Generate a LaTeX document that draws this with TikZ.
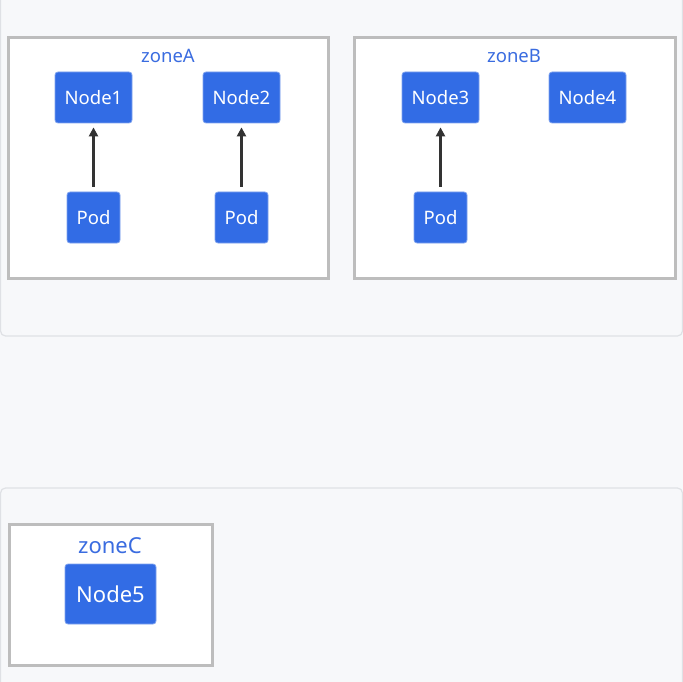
\documentclass[tikz,border=0pt]{standalone}
\usepackage{fontspec}
\setmainfont{Noto Sans}
\usetikzlibrary{arrows.meta}
\definecolor{bg}{HTML}{F7F8FA}
\definecolor{panelline}{HTML}{DFE1E5}
\definecolor{zoneline}{HTML}{BDBDBD}
\definecolor{kblue}{HTML}{326CE5}
\definecolor{kedge}{HTML}{7FA3EE}
\definecolor{zonetext}{HTML}{3A6CE0}
\definecolor{arrowc}{HTML}{333333}
\tikzset{
  zonebox/.style={draw=zoneline, line width=3pt, fill=white},
  zonelabel/.style={text=zonetext, font=\fontsize{18.5}{21}\selectfont, inner sep=0pt},
  kbox/.style={draw=kedge, line width=0.8pt, fill=kblue, rounded corners=3pt, text=white,
    font=\fontsize{18.5}{21}\selectfont, inner sep=0pt, minimum height=51pt},
  knode/.style={kbox, minimum width=77pt},
  kpod/.style={kbox, minimum width=53pt},
  link/.style={draw=arrowc, line width=2.2pt, -{Triangle[length=9pt,width=9pt]}}
}
\begin{document}
\begin{tikzpicture}[x=1pt,y=-1pt]
\useasboundingbox (0,0) rectangle (683,682);
\fill[bg] (0,0) rectangle (683,682);
% panels
\draw[panelline, line width=1.2pt, rounded corners=5pt] (0.5,-20) rectangle (682.5,336);
\draw[panelline, line width=1.2pt, rounded corners=5pt] (0.5,488) rectangle (682.5,700);
% zones
\draw[zonebox] (8,38) rectangle (328,278);
\draw[zonebox] (354,38) rectangle (675,278);
\draw[zonebox] (9,524) rectangle (212,665);
\node[zonelabel] (za) at (168,56) {zoneA};
\node[zonelabel] (zb) at (514,56) {zoneB};
\node[zonelabel, font=\fontsize{22}{25}\selectfont] (zc) at (110,546) {zoneC};
% nodes
\node[knode] (n1) at (93.5,97.5) {Node1};
\node[knode] (n2) at (241.5,97.5) {Node2};
\node[knode] (n3) at (440.5,97.5) {Node3};
\node[knode] (n4) at (587.5,97.5) {Node4};
\node[kbox, minimum width=91pt, minimum height=60pt, font=\fontsize{22}{25}\selectfont] (n5) at (110.5,594) {Node5};
% pods
\node[kpod] (p1) at (93.5,217.5) {Pod};
\node[kpod] (p2) at (241.5,217.5) {Pod};
\node[kpod] (p3) at (440.5,217.5) {Pod};
% links
\draw[link] ([yshift=5pt]p1.north) -- ([yshift=-4pt]n1.south);
\draw[link] ([yshift=5pt]p2.north) -- ([yshift=-4pt]n2.south);
\draw[link] ([yshift=5pt]p3.north) -- ([yshift=-4pt]n3.south);
\end{tikzpicture}
\end{document}
